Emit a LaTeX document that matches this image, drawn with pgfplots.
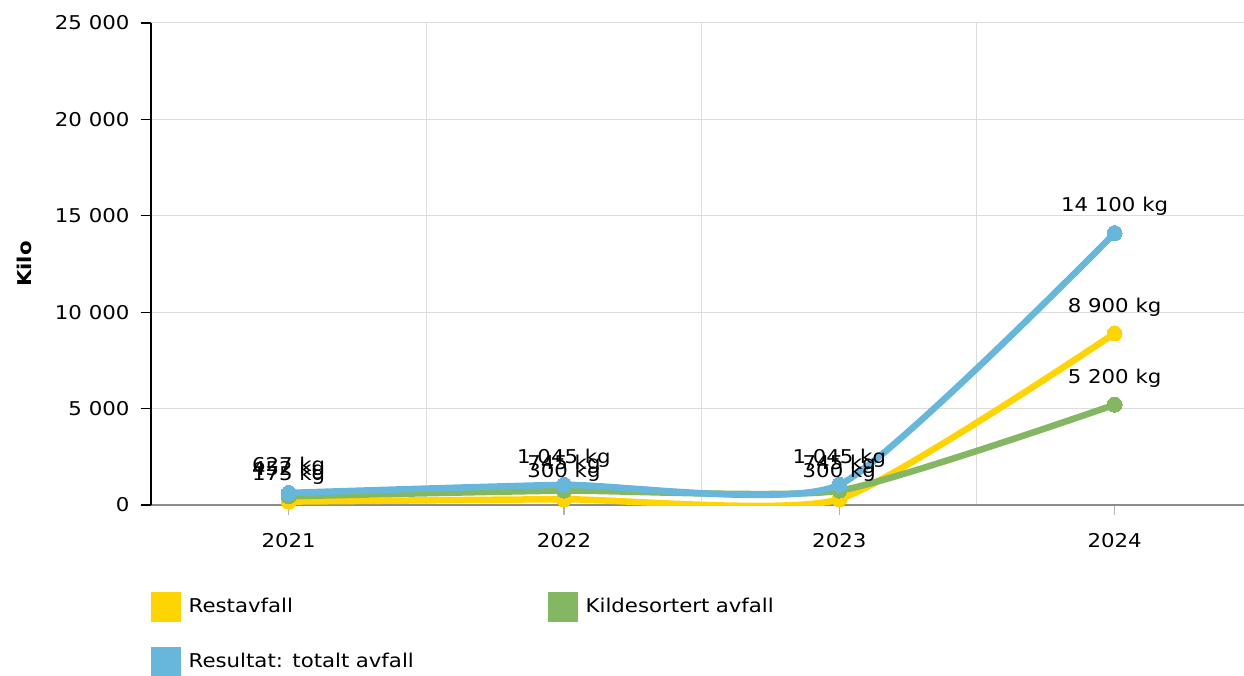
\documentclass[border=0pt]{standalone}
\usepackage{fontspec}
\setmainfont{DejaVu Sans}[FakeStretch=1.12]
\usepackage{pgfplots}
\pgfplotsset{compat=1.18}
\definecolor{rest}{HTML}{FFD400}
\definecolor{kilde}{HTML}{84B761}
\definecolor{total}{HTML}{67B7DC}
\definecolor{gridc}{HTML}{DCDCDC}

\begin{document}
\fontsize{19}{23}\selectfont
\begin{tikzpicture}
\begin{axis}[
    width=1093pt, height=482pt,
    scale only axis,
    xmin=-0.5, xmax=3.47,
    ymin=0, ymax=25000,
    xtick={0,1,2,3},
    xticklabels={2021,2022,2023,2024},
    minor xtick={0.5,1.5,2.5,3.5},
    xminorgrids, ymajorgrids,
    minor grid style={gridc, line width=1pt},
    major grid style={gridc, line width=1pt},
    ytick={0,5000,...,25000},
    /pgf/number format/assume math mode=true,
    /pgf/number format/1000 sep={\ },
    scaled y ticks=false,
    axis x line*=bottom,
    axis y line*=left,
    x axis line style={gray!90, line width=1.5pt, -},
    y axis line style={black, line width=1.2pt, -},
    xtick style={gray!60, line width=1.5pt},
    ytick style={black, line width=1.2pt},
    tick align=outside,
    major tick length=10pt,
    minor tick length=0pt,
    xticklabel style={yshift=-9pt},
    yticklabel style={xshift=-2pt},
    ylabel={\textbf{Kilo}},
    ylabel style={at={(axis description cs:0,0.5)}, anchor=center, yshift=127pt},
    line width=6.5pt,
    every axis plot/.append style={smooth, tension=0.33, mark=*, mark size=7.5pt, mark options={solid, line width=0pt}},
    nodes near coords={\pgfmathprintnumber[1000 sep={\ }]{\pgfplotspointmeta}~kg},
    point meta=y,
    every node near coord/.append style={font=\fontsize{19}{23}\selectfont, anchor=south, yshift=11pt, text=black},
    legend columns=2,
    legend style={at={(-0.006,-0.17)}, anchor=north west, draw=none, fill=none,
        /tikz/every even column/.append style={column sep=0pt},
        nodes={text width=356pt, inner sep=3pt, font=\fontsize{19}{23}\selectfont},
        /tikz/every odd column/.append style={column sep=5pt},
        row sep=25pt},
    legend image code/.code={\fill[#1, draw=none] (0pt,-15pt) rectangle (30pt,15pt);},
]
\addplot[color=rest] coordinates {(0,175) (1,300) (2,300) (3,8900)};
\addlegendentry{Restavfall}
\addplot[color=kilde] coordinates {(0,452) (1,745) (2,745) (3,5200)};
\addlegendentry{Kildesortert avfall}
\addplot[color=total] coordinates {(0,627) (1,1045) (2,1045) (3,14100)};
\addlegendentry{Resultat: totalt avfall}
\end{axis}
\pgfresetboundingbox
\path ([shift={(-151pt,-170pt)}]current axis.south west) rectangle ([shift={(0pt,23pt)}]current axis.north east);
\end{tikzpicture}
\end{document}
